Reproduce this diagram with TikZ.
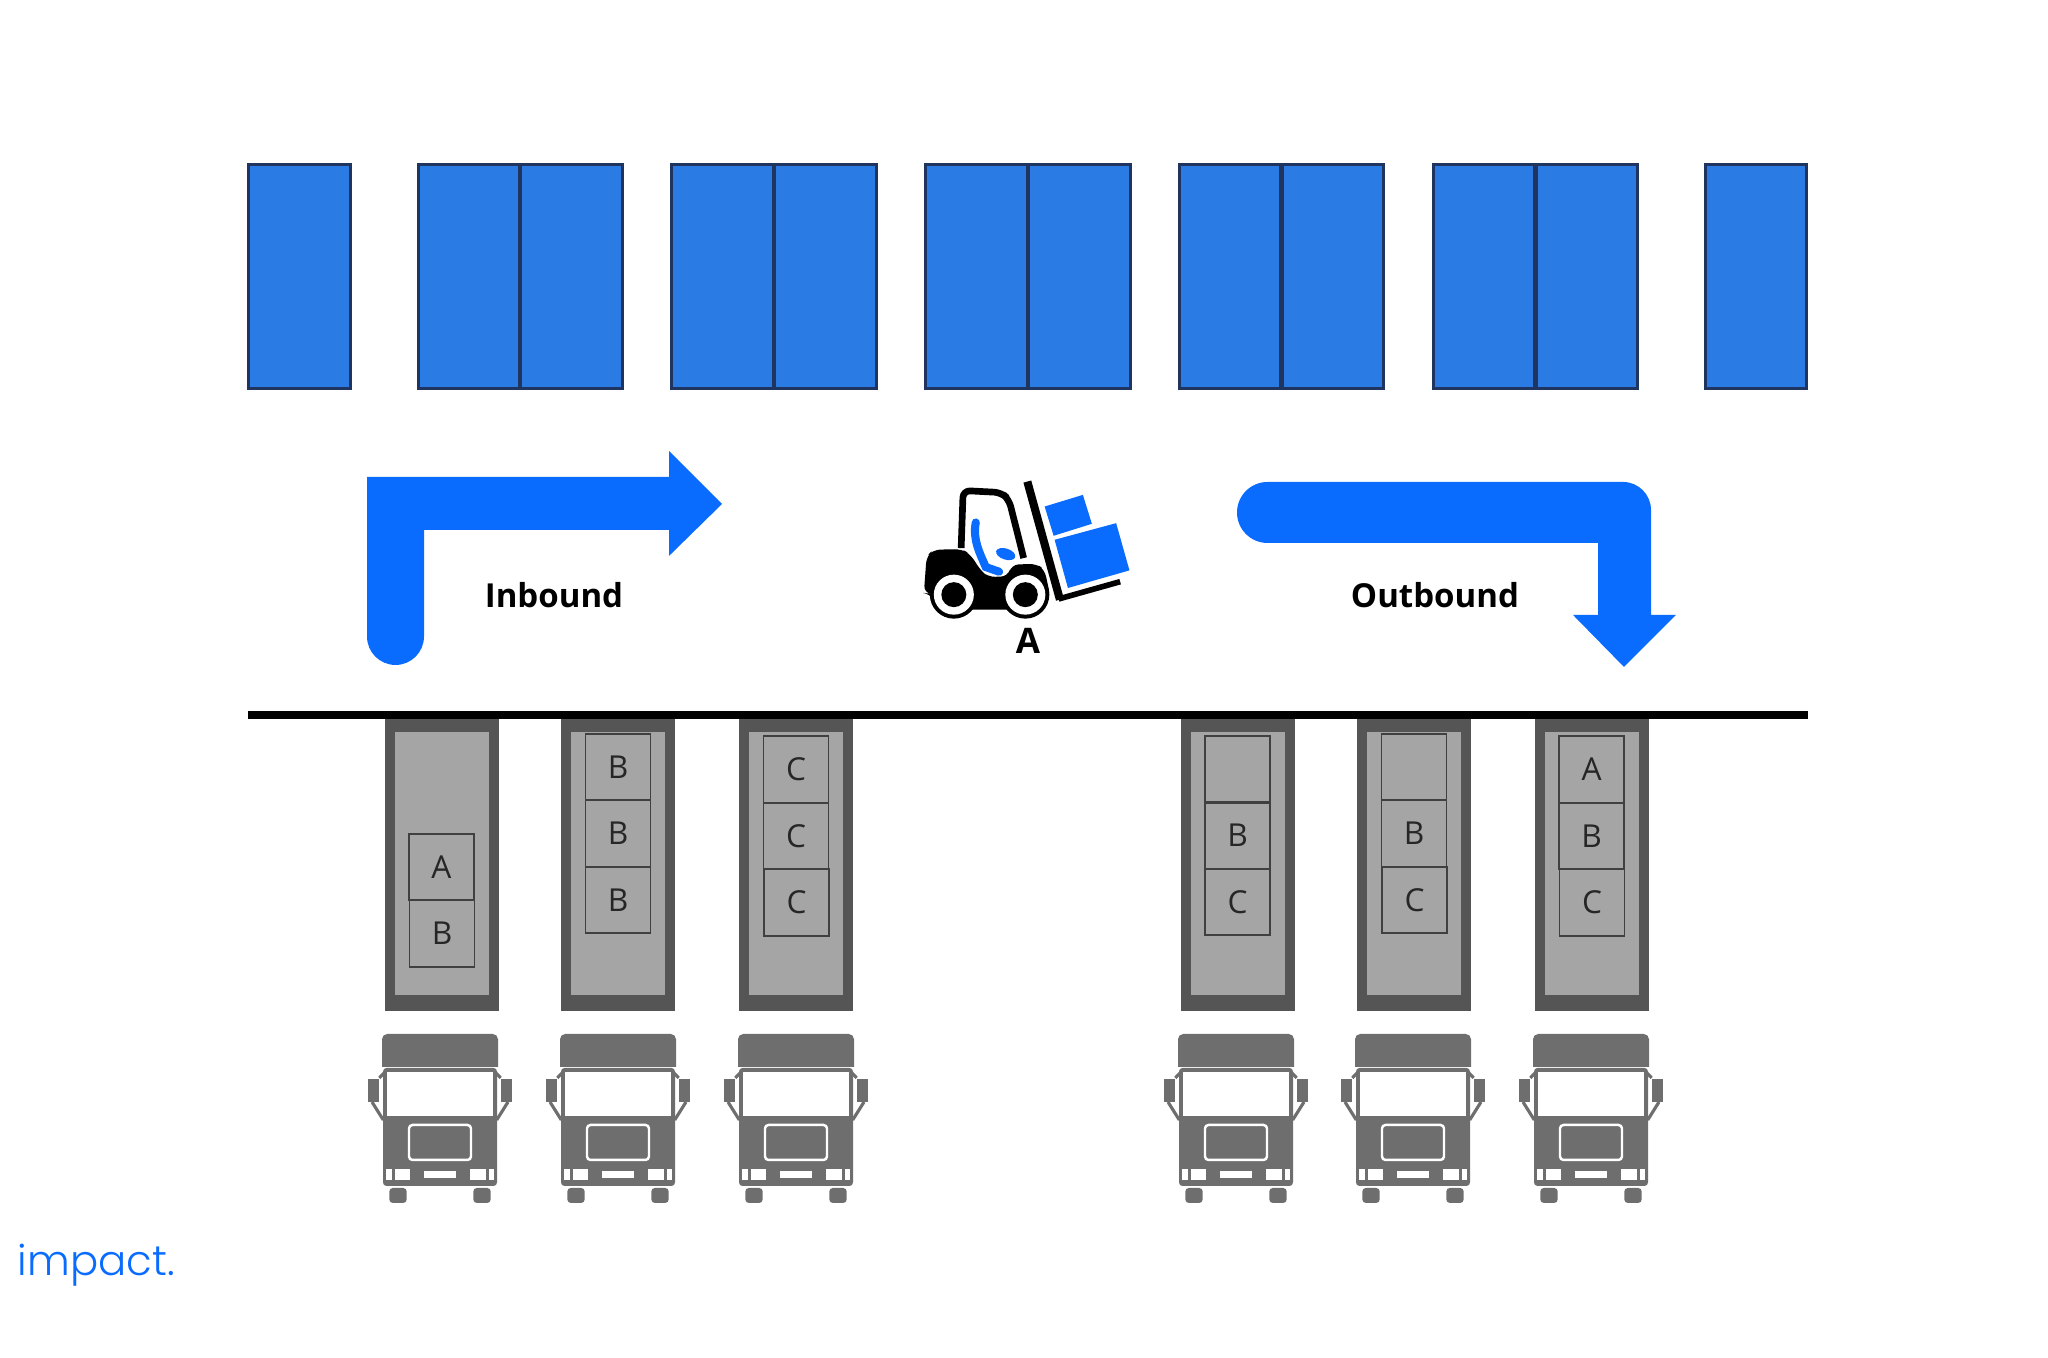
\documentclass[tikz,border=0pt]{standalone}
\usepackage{fontspec}
\setsansfont{Open Sans}
\newfontfamily\logofont{Poppins Light}
\usetikzlibrary{arrows.meta, positioning}
\definecolor{rackFill}{HTML}{2B7BE4}
\definecolor{rackLine}{HTML}{1F3560}
\definecolor{flowBlue}{HTML}{0A6CFF}
\definecolor{dockDark}{HTML}{555555}
\definecolor{dockFill}{HTML}{A5A5A5}
\definecolor{truckGrey}{HTML}{6E6E6E}

\begin{document}
\begin{tikzpicture}[
  font=\sffamily,
  rack/.style={draw=rackLine, fill=rackFill, line width=0.8pt, minimum width=1.015cm, minimum height=2.235cm, inner sep=0pt, outer sep=0pt},
  pallet/.style={draw=black!75, line width=0.5pt, minimum width=0.65cm, minimum height=0.665cm, inner sep=0pt, outer sep=0pt, text=black!85, font=\sffamily\fontsize{9}{10}\selectfont},
  flowlabel/.style={font=\sffamily\bfseries\fontsize{9.4}{11}\selectfont, text=black},
  truckBody/.style={fill=truckGrey, draw=none},
  truckLight/.style={fill=white, draw=none}
]
\useasboundingbox (0,0) rectangle (20.48,13.58);

% =========================================================
% RACKS
% =========================================================

\foreach \x/\n in {2.995/a, 4.69/b, 5.715/c, 7.225/d, 8.255/e, 9.765/f, 10.795/g, 12.30/h, 13.33/i, 14.84/j, 15.87/k, 17.56/l}{
  \node[rack] (rack\n) at (\x,10.815) {};
}

% =========================================================
% FLOWS
% =========================================================

% Inbound
\fill[flowBlue] (3.67,7.215) -- (3.67,8.81) -- (6.69,8.81) -- (6.69,9.07) -- (7.22,8.54) -- (6.69,8.02) -- (6.69,8.28) -- (4.24,8.28) -- (4.24,7.215) arc[start angle=0, end angle=-180, radius=0.285] -- cycle;
\node[flowlabel] (inbound) at (5.54,7.63) {Inbound};

% Outbound
\fill[flowBlue] (12.675,8.76) -- (16.23,8.76) arc[start angle=90, end angle=0, radius=0.28] -- (16.51,7.43) -- (16.76,7.43) -- (16.24,6.91) -- (15.73,7.43) -- (15.98,7.43) -- (15.98,8.15) -- (12.675,8.15) arc[start angle=270, end angle=90, radius=0.305] -- cycle;
\node[flowlabel] (outbound) at (14.35,7.63) {Outbound};

% =========================================================
% FORKLIFT
% =========================================================

\begin{scope}[shift={(8.80,9.08)}, x=0.00333cm, y=-0.00333cm]
  % body
  \fill[black, rounded corners=2pt] (132,430) -- (140,320) -- (160,300) -- (245,298) -- (270,312) -- (305,365) -- (325,382) -- (385,380) -- (395,345) -- (470,342) -- (495,360) -- (512,440) -- (480,480) -- (180,480) -- (150,432) -- cycle;
  % cab
  \draw[black, line width=1.9pt, line join=round, rounded corners=2pt] (244,295) -- (250,122) -- (365,128) -- (388,150) -- (432,325);
  % mast and fork
  \draw[black, line width=2.3pt] (443,95) -- (541,450);
  \draw[black, line width=1.6pt] (537,448) -- (722,396);
  % wheels
  \foreach \cx in {222, 437}{
    \fill[black] (\cx,435) circle (0.24cm);
    \fill[white] (\cx,435) circle (0.20cm);
    \fill[black] (\cx,435) circle (0.125cm);
  }
  % seat and steering
  \draw[flowBlue, line width=2.3pt, line cap=round] (288,218) .. controls (278,270) and (300,310) .. (318,352) -- (358,366);
  \fill[flowBlue, rotate around={-18:(378,313)}] (378,313) ellipse (0.10cm and 0.055cm);
  % cargo
  \fill[flowBlue] (495,170) -- (610,135) -- (637,222) -- (522,258) -- cycle;
  \fill[flowBlue] (525,270) -- (710,220) -- (750,362) -- (565,415) -- cycle;
\end{scope}
\node[font=\sffamily\bfseries\fontsize{10}{12}\selectfont] (forkA) at (10.28,7.17) {A};

% =========================================================
% FLOOR LINE
% =========================================================

\fill[black] (2.48,6.39) rectangle (18.08,6.47);

% =========================================================
% DOCKS AND TRUCKS
% =========================================================

\foreach \x in {4.42, 6.18, 7.96, 12.38, 14.14, 15.92}{
  \fill[dockDark] (\x-0.57,3.47) rectangle (\x+0.57,6.39);
  \fill[dockFill] (\x-0.47,3.63) rectangle (\x+0.47,6.26);
}

\foreach \x in {4.40, 6.18, 7.96, 12.36, 14.13, 15.91}{
  \begin{scope}[shift={(\x,0)}]
    % cargo top
    \fill[truckBody, rounded corners=1.5pt] (-0.58,2.91) [sharp corners] -- (-0.58,3.0) [rounded corners=1.5pt] -- (-0.58,3.24) -- (0.58,3.24) -- (0.58,3.0) [sharp corners] -- (0.58,2.91) -- cycle;
    % cab
    \fill[truckBody, rounded corners=1pt] (-0.57,1.72) rectangle (0.57,2.90);
    \fill[truckLight] (-0.527,2.42) rectangle (0.527,2.86);
    % grille
    \draw[white, line width=0.7pt, rounded corners=1pt, fill=truckGrey] (-0.31,1.98) rectangle (0.31,2.33);
    % lights
    \fill[truckLight] (-0.54,1.78) rectangle (-0.485,1.89);
    \fill[truckLight] (-0.455,1.78) rectangle (-0.30,1.89);
    \fill[truckLight] (-0.16,1.80) rectangle (0.16,1.87);
    \fill[truckLight] (0.30,1.78) rectangle (0.455,1.89);
    \fill[truckLight] (0.485,1.78) rectangle (0.54,1.89);
    % wheels
    \fill[truckBody, rounded corners=1pt] (-0.507,1.55) rectangle (-0.333,1.70);
    \fill[truckBody, rounded corners=1pt] (0.333,1.55) rectangle (0.507,1.70);
    % mirrors
    \fill[truckBody] (-0.723,2.56) rectangle (-0.607,2.79);
    \fill[truckBody] (0.607,2.56) rectangle (0.723,2.79);
    \draw[truckGrey, line width=0.9pt] (-0.607,2.80) -- (-0.53,2.88);
    \draw[truckGrey, line width=0.9pt] (-0.68,2.56) -- (-0.567,2.38);
    \draw[truckGrey, line width=0.9pt] (0.607,2.80) -- (0.53,2.88);
    \draw[truckGrey, line width=0.9pt] (0.68,2.56) -- (0.567,2.38);
  \end{scope}
}

% =========================================================
% PALLETS
% =========================================================

\foreach \x/\y/\lab/\n in {
  4.415/4.91/A/a, 4.42/4.245/B/b,
  6.18/5.91/B/c, 6.18/5.245/B/d, 6.18/4.58/B/e,
  7.96/5.885/C/f, 7.96/5.22/C/g, 7.965/4.555/C/h,
  12.375/5.885/{}/i, 12.375/5.225/B/j, 12.375/4.56/C/k,
  14.14/5.91/{}/m, 14.14/5.245/B/n, 14.145/4.58/C/o,
  15.917/5.885/A/p, 15.917/5.22/B/q, 15.92/4.555/C/r
}{
  \node[pallet] (pallet\n) at (\x,\y) {\lab};
}

% =========================================================
% LOGO
% =========================================================

\node[font=\logofont\fontsize{11.9}{14}\selectfont, text=flowBlue, anchor=base west, inner sep=0pt] (logo) at (0.17,0.82) {impact.};

\end{tikzpicture}
\end{document}
